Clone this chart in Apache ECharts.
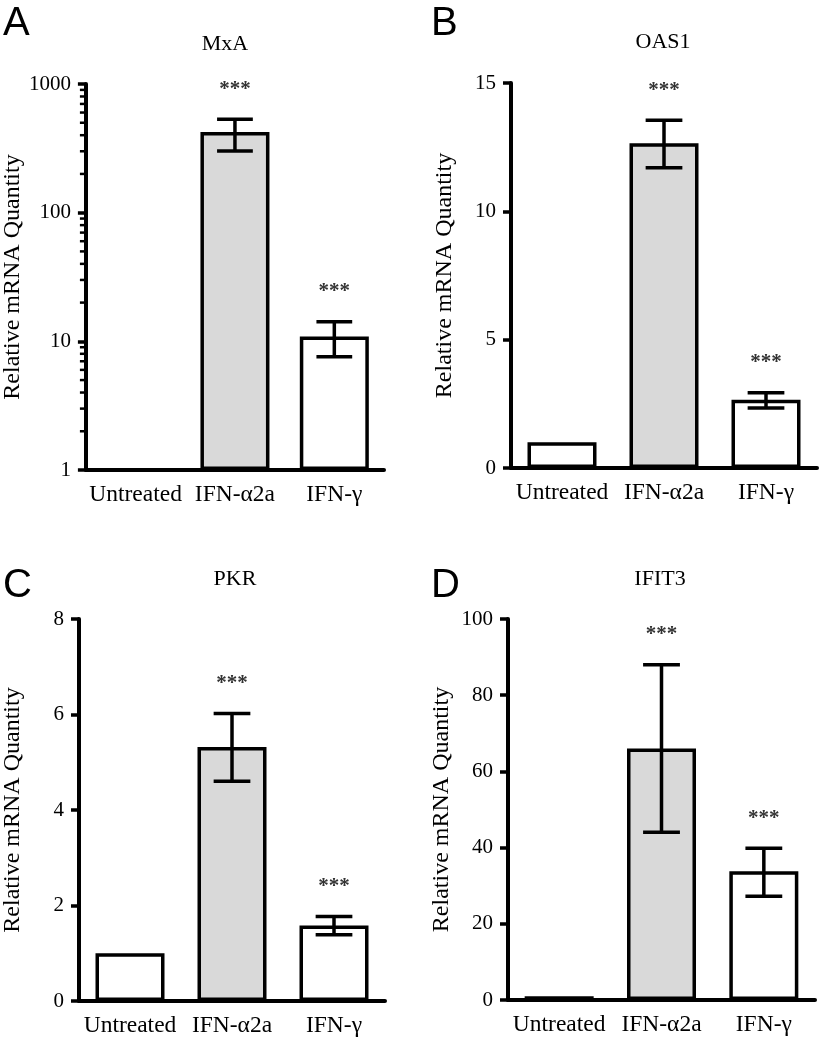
<!DOCTYPE html>
<html>
<head>
<meta charset="utf-8">
<script src="https://cdn.jsdelivr.net/npm/echarts@6/dist/echarts.min.js"></script>
<style>
  html, body { margin: 0; padding: 0; background: #ffffff; }
  #chart { width: 821px; height: 1050px; }
</style>
</head>
<body>
<div id="chart"></div>
<script>
// ---- data ----
const categories = ['Untreated', 'IFN-\u03b12a', 'IFN-\u03b3'];
const significance = ['', '***', '***'];

const mxaMean = [1, 423, 10.9];
const mxaLow  = [null, 301, 7.6];
const mxaHigh = [null, 533, 14.2];

const oas1Mean = [1.0, 12.65, 2.66];
const oas1Low  = [null, 11.7, 2.34];
const oas1High = [null, 13.55, 2.93];

const pkrMean = [1.0, 5.32, 1.58];
const pkrLow  = [null, 4.6, 1.39];
const pkrHigh = [null, 6.02, 1.77];

const ifit3Mean = [1.0, 66, 33.8];
const ifit3Low  = [null, 44, 27.2];
const ifit3High = [null, 88, 39.8];

const mxaMinorTicks = [2, 3, 4, 5, 6, 7, 8, 9, 20, 30, 40, 50, 60, 70, 80, 90, 200, 300, 400, 500, 600, 700, 800, 900];

const panelTitles = ['MxA', 'OAS1', 'PKR', 'IFIT3'];
const panelLetters = ['A', 'B', 'C', 'D'];
const yAxisTitle = 'Relative mRNA Quantity';

// ---- styling / layout ----
const SERIF = '"Liberation Serif", "Times New Roman", serif';
const SANS = '"Liberation Sans", Arial, sans-serif';
const barFills = ['#ffffff', '#d9d9d9', '#ffffff'];

const grids = [
  { left: 79, top: 84, width: 305, height: 386 },
  { left: 511, top: 83, width: 306, height: 385 },
  { left: 79, top: 619, width: 306, height: 382 },
  { left: 508, top: 619, width: 307, height: 381 }
];
const titlePos = [[225, 33], [663, 31], [235, 568], [660, 568]];
const letterPos = [[3, 4], [431, 4], [3, 566], [431, 566]];

const yAxisCfg = [
  { type: 'log', logBase: 10, min: 1, max: 1000, splitNumber: 3 },
  { type: 'value', min: 0, max: 15, interval: 5 },
  { type: 'value', min: 0, max: 8, interval: 2 },
  { type: 'value', min: 0, max: 100, interval: 20 }
];

const means = [mxaMean, oas1Mean, pkrMean, ifit3Mean];
const lows = [mxaLow, oas1Low, pkrLow, ifit3Low];
const highs = [mxaHigh, oas1High, pkrHigh, ifit3High];

function errorRender(params, api) {
  const i = api.value(0);
  const lo = api.value(1);
  const hi = api.value(2);
  const top = api.coord([i, hi]);
  const bot = api.coord([i, lo]);
  const band = Math.abs(api.coord([1, hi])[0] - api.coord([0, hi])[0]);
  const half = band * 0.18;
  const ls = { stroke: '#000', lineWidth: 3.5 };
  return {
    type: 'group',
    children: [
      { type: 'line', shape: { x1: top[0], y1: top[1], x2: bot[0], y2: bot[1] }, style: ls },
      { type: 'line', shape: { x1: top[0] - half, y1: top[1], x2: top[0] + half, y2: top[1] }, style: ls },
      { type: 'line', shape: { x1: bot[0] - half, y1: bot[1], x2: bot[0] + half, y2: bot[1] }, style: ls },
      { type: 'text', x: top[0], y: top[1] - 30,
        style: { text: significance[i], fill: '#333', font: 'bold 21px ' + SERIF, textAlign: 'center', textVerticalAlign: 'middle' } }
    ]
  };
}

function minorTickRender(params, api) {
  const y = api.coord([0, api.value(1)])[1];
  const x = params.coordSys.x;
  return { type: 'line', shape: { x1: x - 6, y1: y, x2: x, y2: y }, style: { stroke: '#000', lineWidth: 2.5 } };
}

const option = {
  animation: false,
  backgroundColor: '#ffffff',
  title: [],
  grid: [],
  xAxis: [],
  yAxis: [],
  series: []
};

for (let p = 0; p < 4; p++) {
  option.grid.push(Object.assign({ containLabel: false }, grids[p]));
  option.title.push({
    text: panelTitles[p], left: titlePos[p][0], top: titlePos[p][1], textAlign: 'center', padding: 0,
    textStyle: { fontFamily: SERIF, fontSize: 22, fontWeight: 'normal', color: '#000' }
  });
  option.title.push({
    text: panelLetters[p], left: letterPos[p][0], top: letterPos[p][1], padding: 0,
    textStyle: { fontFamily: SANS, fontSize: 40, fontWeight: 'normal', color: '#000' }
  });
  option.xAxis.push({
    type: 'category', gridIndex: p, data: categories,
    axisLine: { lineStyle: { color: '#000', width: 4 } },
    axisTick: { alignWithLabel: true, length: 9, lineStyle: { color: '#000', width: 3.5 } },
    axisLabel: { color: '#000', fontFamily: SERIF, fontSize: 23.5, margin: 13, interval: 0 }
  });
  option.yAxis.push(Object.assign({
    gridIndex: p,
    name: yAxisTitle, nameLocation: 'middle', nameGap: 54, nameRotate: 90,
    nameTextStyle: { color: '#000', fontFamily: SERIF, fontSize: 24 },
    axisLine: { show: true, lineStyle: { color: '#000', width: 4 } },
    axisTick: { show: true, length: 8, lineStyle: { color: '#000', width: 3.5 } },
    axisLabel: { color: '#000', fontFamily: SERIF, fontSize: 21, margin: 15,
                 formatter: function (v) { return String(Math.round(v)); } },
    splitLine: { show: false }
  }, yAxisCfg[p]));

  option.series.push({
    type: 'bar', xAxisIndex: p, yAxisIndex: p,
    barWidth: 69,
    data: means[p].map((v, i) => ({
      value: v,
      itemStyle: { color: barFills[i], borderColor: '#000', borderWidth: 3.5 }
    })),
    z: 2
  });

  const errData = [];
  for (let i = 0; i < categories.length; i++) {
    if (lows[p][i] != null) errData.push([i, lows[p][i], highs[p][i]]);
  }
  option.series.push({
    type: 'custom', xAxisIndex: p, yAxisIndex: p,
    renderItem: errorRender,
    encode: { x: 0, y: [1, 2] },
    data: errData,
    z: 3
  });
}

option.series.push({
  type: 'custom', xAxisIndex: 0, yAxisIndex: 0,
  renderItem: minorTickRender,
  encode: { x: 0, y: 1 },
  data: mxaMinorTicks.map(v => [0, v]),
  clip: false,
  z: 4
});

const chart = echarts.init(document.getElementById('chart'), null, { renderer: 'canvas' });
chart.setOption(option);
</script>
</body>
</html>
